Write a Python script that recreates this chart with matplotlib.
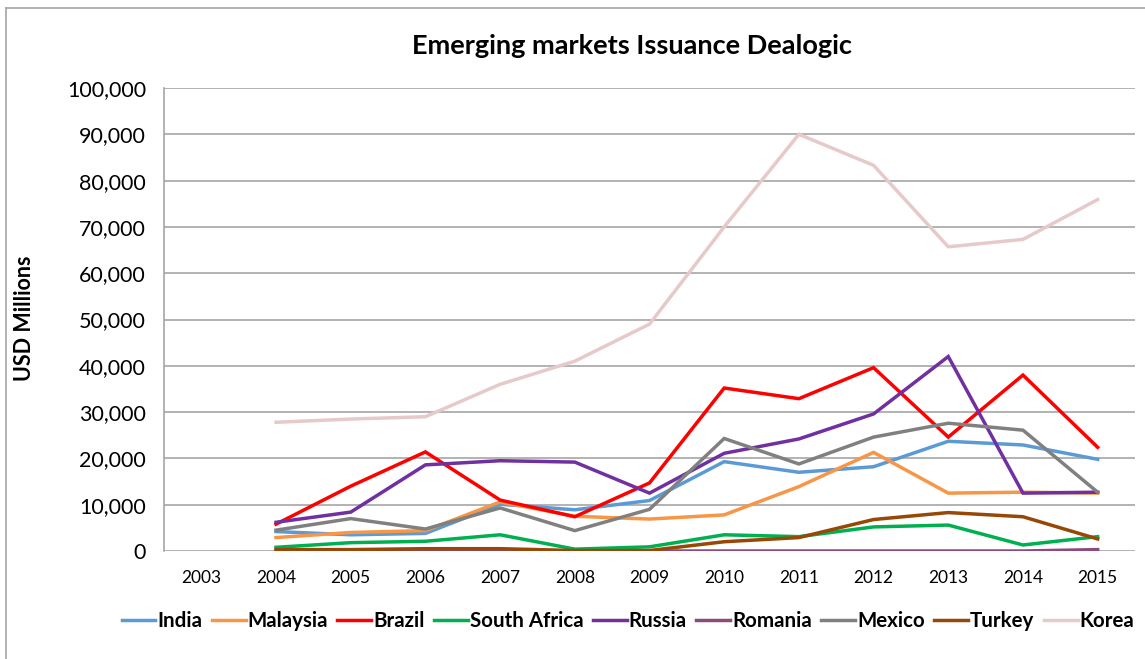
import matplotlib.pyplot as plt
from matplotlib.lines import Line2D
from matplotlib.ticker import FuncFormatter

plt.rcParams['font.family'] = ['Lato', 'DejaVu Sans']

years = ['2003', '2004', '2005', '2006', '2007', '2008', '2009',
         '2010', '2011', '2012', '2013', '2014', '2015']

# USD millions, 2004-2015 (no data for 2003)
india = [4200, 3500, 3800, 10100, 8900, 10900, 19300, 17000, 18200, 23700, 22900, 19800]
malaysia = [2900, 4000, 4400, 10600, 7500, 6900, 7800, 13900, 21300, 12500, 12700, 12500]
brazil = [5800, 14000, 21400, 11000, 7400, 14700, 35200, 32900, 39600, 24600, 38000, 22400]
south_africa = [800, 1800, 2100, 3500, 400, 900, 3500, 3100, 5200, 5600, 1300, 3100]
russia = [6200, 8400, 18600, 19500, 19200, 12500, 21100, 24200, 29600, 42000, 12500, 12700]
romania = [0, 0, 0, 0, 0, 0, 0, 0, 0, 0, 0, 300]
mexico = [4500, 7000, 4750, 9300, 4400, 9000, 24300, 18800, 24600, 27600, 26100, 12700]
turkey = [300, 300, 500, 500, 100, 100, 2000, 2900, 6800, 8300, 7400, 2600]
korea = [27800, 28500, 29000, 36000, 41000, 49000, 70000, 90000, 83300, 65700, 67300, 75900]

series = [
    ('India', india, '#5B9BD5'),
    ('Malaysia', malaysia, '#F79646'),
    ('Brazil', brazil, '#FF0000'),
    ('South Africa', south_africa, '#00B050'),
    ('Russia', russia, '#7030A0'),
    ('Romania', romania, '#8E4A7E'),
    ('Mexico', mexico, '#808080'),
    ('Turkey', turkey, '#974706'),
    ('Korea', korea, '#E6CACA'),
]

fig = plt.figure(figsize=(11.45, 6.59), dpi=100)
ax = fig.add_axes([164 / 1145, 1 - 551 / 659, (1135 - 164) / 1145, (551 - 88) / 659])

x = list(range(len(years)))
for name, vals, col in series:
    ax.plot(x[1:], vals, color=col, lw=2.5, label=name, solid_joinstyle='miter')

ax.set_xlim(-0.5, len(years) - 0.5)
ax.set_ylim(0, 100000)
ax.set_xticks(x)
ax.set_xticklabels(years, fontsize=12.5)
ax.set_yticks(range(0, 100001, 10000))
ax.yaxis.set_major_formatter(FuncFormatter(lambda v, p: f'{int(v):,}'))
ax.tick_params(axis='y', length=0, pad=13, labelsize=15.5)
ax.tick_params(axis='x', length=0, pad=14)
ax.grid(axis='y', color='#A6A6A6', lw=1.2)
ax.set_axisbelow(True)
for s in ['top', 'right', 'bottom']:
    ax.spines[s].set_visible(False)
ax.spines['left'].set_color('#A6A6A6')
ax.spines['left'].set_linewidth(1.2)

ax.set_ylabel('USD Millions', fontsize=15.5, fontweight='bold')
ax.yaxis.set_label_coords((35 - 164) / (1135 - 164), (551 - 318) / (551 - 88))

fig.text(632 / 1145, 1 - 46 / 659, 'Emerging markets Issuance Dealogic',
         ha='center', va='center', fontsize=19.5, fontweight='bold')

fig.legend(loc='center', bbox_to_anchor=(628 / 1145, 1 - 621 / 659), ncol=9,
           frameon=False, handlelength=1.65, handletextpad=0.1, columnspacing=0.45,
           prop={'weight': 'bold', 'size': 14.8})

# chart frame
fig.add_artist(Line2D([6 / 1145, 6 / 1145], [0, 1 - 8 / 659], color='#A6A6A6', lw=1.2,
                      transform=fig.transFigure))
fig.add_artist(Line2D([6 / 1145, 1], [1 - 8 / 659, 1 - 8 / 659], color='#A6A6A6', lw=1.2,
                      transform=fig.transFigure))

fig.savefig('out.png', dpi=100)
